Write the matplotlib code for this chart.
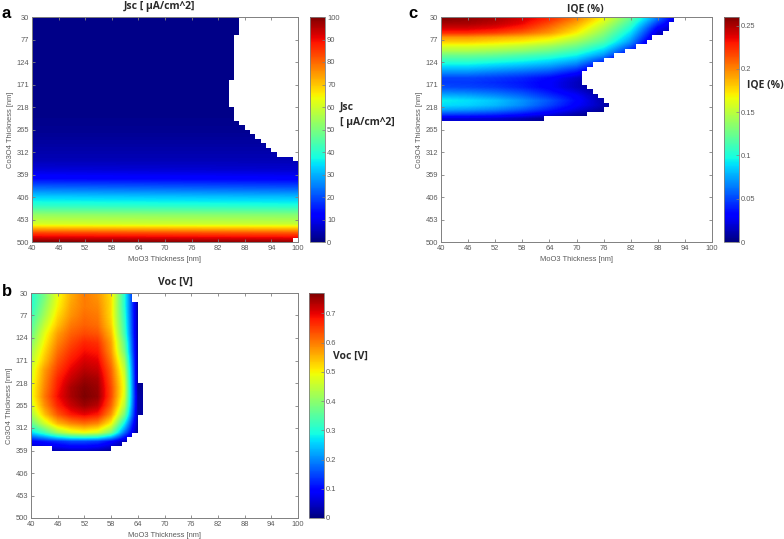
import numpy as np
import matplotlib
matplotlib.use("Agg")
import matplotlib.pyplot as plt
from matplotlib.path import Path

W, H = 784, 539
TICK_FONT = "Liberation Sans"
TITLE_FONT = "Open Sans"
GREY = "#5a5a5a"
EDGE = "#808080"

x_ticks = [40, 46, 52, 58, 64, 70, 76, 82, 88, 94, 100]
y_ticks = [30, 77, 124, 171, 218, 265, 312, 359, 406, 453, 500]
x_label = "MoO3 Thickness [nm]"
y_label = "Co3O4 Thickness [nm]"
N_CELLS = 50

# ---- panel a: Jsc, sampled every 2 grid rows from 30 to 500 nm
jsc_x = [40, 100]
jsc_left = [1, 1, 1, 1, 1, 1, 1, 1, 1, 1, 1, 1, 1.5, 2, 3, 4, 5, 8, 13, 23, 33, 41, 53, 61, 84, 100]
jsc_right = [1, 1, 1, 1, 1, 1, 1, 1, 1, 1, 1, 1, 1.5, 2, 3, 4, 5, 7, 12, 21, 31, 39, 51, 59, 82, 98]
# filled cells per grid row
jsc_filled = [39, 39, 39, 39, 38, 38, 38, 38, 38, 38, 38, 38, 38, 38, 37, 37, 37, 37, 37, 37,
              38, 38, 38, 39, 40, 41, 42, 43, 44, 45, 46, 49, 50, 50, 50, 50, 50, 50, 50, 50,
              50, 50, 50, 50, 50, 50, 50, 50, 50, 49]

# ---- panel b: Voc, one row per 2 grid rows, columns every 3 nm
voc_x = [40, 43, 46, 49, 52, 55, 58, 61, 64, 67]
voc_rows = [
    [.30, .38, .49, .56, .60, .58, .52, .30, .02, .01],
    [.30, .40, .50, .57, .60, .59, .52, .30, .02, .01],
    [.32, .42, .52, .58, .61, .60, .52, .31, .02, .01],
    [.34, .45, .54, .60, .62, .61, .53, .32, .02, .01],
    [.36, .48, .57, .62, .64, .63, .55, .33, .02, .01],
    [.39, .50, .59, .64, .67, .66, .57, .36, .02, .01],
    [.42, .52, .61, .66, .69, .68, .58, .38, .02, .01],
    [.44, .54, .63, .68, .71, .70, .60, .42, .02, .01],
    [.46, .57, .65, .70, .73, .72, .62, .45, .02, .01],
    [.47, .58, .67, .72, .75, .74, .63, .47, .02, .01],
    [.48, .59, .68, .74, .765, .75, .64, .48, .02, .01],
    [.48, .60, .69, .74, .77, .755, .64, .47, .03, .01],
    [.46, .58, .67, .72, .75, .73, .62, .44, .03, .01],
    [.42, .54, .63, .68, .70, .68, .58, .38, .03, .01],
    [.36, .46, .55, .59, .61, .59, .50, .28, .02, .01],
    [.26, .33, .42, .47, .49, .47, .38, .18, .01, 0],
    [.09, .11, .13, .15, .15, .14, .10, .04, .01, 0],
    [.02, .03, .04, .05, .05, .04, .02, 0, 0, 0],
]
voc_filled = [19, 19] + [20] * 18 + [21] * 7 + [20] * 4 + [19, 18, 17, 15]
voc_start = [0] * 34 + [4]

# ---- panel c: IQE, one row per grid row, columns every 6 nm
iqe_x = x_ticks
iqe_rows = [
    [.258, .255, .25, .24, .225, .20, .165, .12, .06, 0, 0],
    [.25, .25, .245, .235, .215, .19, .155, .11, .045, 0, 0],
    [.24, .24, .235, .225, .205, .18, .145, .10, .03, 0, 0],
    [.225, .225, .22, .21, .195, .17, .135, .09, .02, 0, 0],
    [.195, .195, .19, .185, .175, .155, .125, .08, .01, 0, 0],
    [.18, .18, .175, .17, .16, .14, .115, .07, 0, 0, 0],
    [.16, .16, .157, .15, .14, .125, .10, .055, 0, 0, 0],
    [.145, .145, .14, .135, .125, .11, .085, .04, 0, 0, 0],
    [.125, .125, .122, .115, .108, .095, .07, .02, 0, 0, 0],
    [.11, .11, .105, .10, .092, .08, .05, 0, 0, 0, 0],
    [.095, .095, .09, .085, .078, .065, .03, 0, 0, 0, 0],
    [.08, .08, .075, .07, .063, .048, .015, 0, 0, 0, 0],
    [.065, .065, .06, .055, .048, .032, 0, 0, 0, 0, 0],
    [.05, .05, .047, .042, .033, .018, 0, 0, 0, 0, 0],
    [.047, .047, .043, .038, .03, .015, 0, 0, 0, 0, 0],
    [.052, .05, .047, .04, .03, .015, 0, 0, 0, 0, 0],
    [.065, .063, .058, .05, .037, .022, .003, 0, 0, 0, 0],
    [.08, .077, .07, .06, .045, .03, .006, 0, 0, 0, 0],
    [.095, .09, .083, .07, .054, .033, .01, 0, 0, 0, 0],
    [.09, .087, .08, .068, .05, .03, .012, 0, 0, 0, 0],
    [.075, .072, .066, .055, .04, .022, .006, 0, 0, 0, 0],
    [.05, .048, .044, .036, .025, .01, 0, 0, 0, 0, 0],
    [.02, .02, .018, .012, .004, 0, 0, 0, 0, 0, 0],
]
iqe_filled = [43, 42, 42, 41, 39, 38, 36, 34, 32, 30, 28, 27, 26, 26, 26, 27, 28, 29, 30, 31, 30, 27, 19]

jsc_ticks = [0, 10, 20, 30, 40, 50, 60, 70, 80, 90, 100]
voc_ticks = [0, .1, .2, .3, .4, .5, .6, .7]
iqe_ticks = [0, .05, .1, .15, .2, .25]

DX = 60 / N_CELLS
DY = 470 / N_CELLS


def axes_px(fig, x0, y0, x1, y1):
    return fig.add_axes([x0 / W, 1 - y1 / H, (x1 - x0) / W, (y1 - y0) / H])


def staircase(filled, start=None):
    start = start or [0] * len(filled)
    right, left = [], []
    for i, (s, e) in enumerate(zip(start, filled)):
        t0, t1 = 30 + i * DY, 30 + (i + 1) * DY
        right += [(40 + e * DX, t0), (40 + e * DX, t1)]
        left += [(40 + s * DX, t0), (40 + s * DX, t1)]
    verts = right + left[::-1]
    verts.append(verts[0])
    return Path(verts)


def panel(fig, box, cbox, values, xs, ys, vmax, filled, start, ticks, ticklabels,
          title, title_xy, letter, letter_xy, side, side_xy):
    ax = axes_px(fig, *box)
    z = np.array(values, float)
    dx = xs[1] - xs[0]
    dy = ys[1] - ys[0]
    im = ax.imshow(z, cmap="jet", vmin=0, vmax=vmax, aspect="auto", origin="upper",
                   interpolation="bilinear",
                   extent=[xs[0] - dx / 2, xs[-1] + dx / 2, ys[-1] + dy / 2, ys[0] - dy / 2])
    im.set_clip_path(staircase(filled, start), ax.transData)
    ax.set_xlim(40, 100)
    ax.set_ylim(500, 30)
    ax.set_xticks(x_ticks)
    ax.set_yticks(y_ticks)
    ax.tick_params(direction="in", length=2.5, width=0.6, color=EDGE, labelcolor=GREY,
                   labelsize=5.4, top=True, right=True, pad=2)
    for lab in ax.get_xticklabels() + ax.get_yticklabels():
        lab.set_fontfamily(TICK_FONT)
    for sp in ax.spines.values():
        sp.set_color(EDGE)
        sp.set_linewidth(0.7)
    ax.set_xlabel(x_label, fontsize=5.4, color=GREY, family=TICK_FONT, labelpad=3)
    ax.set_ylabel(y_label, fontsize=5.4, color=GREY, family=TICK_FONT, labelpad=2)

    cax = axes_px(fig, *cbox)
    cb = fig.colorbar(im, cax=cax)
    cb.set_ticks(ticks, labels=ticklabels)
    cb.ax.tick_params(direction="in", length=2, width=0.5, color=EDGE, labelcolor=GREY,
                      labelsize=5.4, pad=1.5)
    for lab in cb.ax.get_yticklabels():
        lab.set_fontfamily(TICK_FONT)
    cb.outline.set_edgecolor(EDGE)
    cb.outline.set_linewidth(0.6)

    fig.text(title_xy[0] / W, 1 - title_xy[1] / H, title, fontsize=7.5, fontweight="bold",
             family=TITLE_FONT, color="#2a2a2a", ha="center", va="center")
    fig.text(letter_xy[0] / W, 1 - letter_xy[1] / H, letter, fontsize=12, fontweight="bold",
             family="Liberation Sans", color="black", ha="left", va="center")
    fig.text(side_xy[0] / W, 1 - side_xy[1] / H, side, fontsize=7.5, fontweight="bold",
             family=TITLE_FONT, color="#2a2a2a", ha="left", va="center", linespacing=1.5)


fig = plt.figure(figsize=(W / 100, H / 100), dpi=100, facecolor="white")

jsc_y = [30 + 2 * DY * k for k in range(len(jsc_left))]
panel(fig, (32, 17, 298, 242), (310, 17, 325, 242),
      np.column_stack([jsc_left, jsc_right]), jsc_x, jsc_y, 100, jsc_filled, None,
      jsc_ticks, [str(t) for t in jsc_ticks],
      "Jsc [ \u00b5A/cm^2]", (160, 7), "a", (2, 14), "Jsc\n[ \u00b5A/cm^2]", (340, 115))

voc_y = [30 + DY + 2 * DY * k for k in range(len(voc_rows))]
panel(fig, (31, 293, 298, 518), (309, 293, 324, 518),
      voc_rows, voc_x, voc_y, 0.77, voc_filled, voc_start,
      voc_ticks, ["0", "0.1", "0.2", "0.3", "0.4", "0.5", "0.6", "0.7"],
      "Voc [V]", (175, 282), "b", (2, 292), "Voc [V]", (333, 356))

iqe_y = [30 + DY / 2 + DY * k for k in range(len(iqe_rows))]
panel(fig, (441, 17, 712, 242), (724, 17, 739, 242),
      iqe_rows, iqe_x, iqe_y, 0.26, iqe_filled, None,
      iqe_ticks, ["0", "0.05", "0.1", "0.15", "0.2", "0.25"],
      "IQE (%)", (585, 9), "c", (408, 14), "IQE (%)", (747, 85))

fig.savefig("out.png", dpi=100, facecolor="white")
